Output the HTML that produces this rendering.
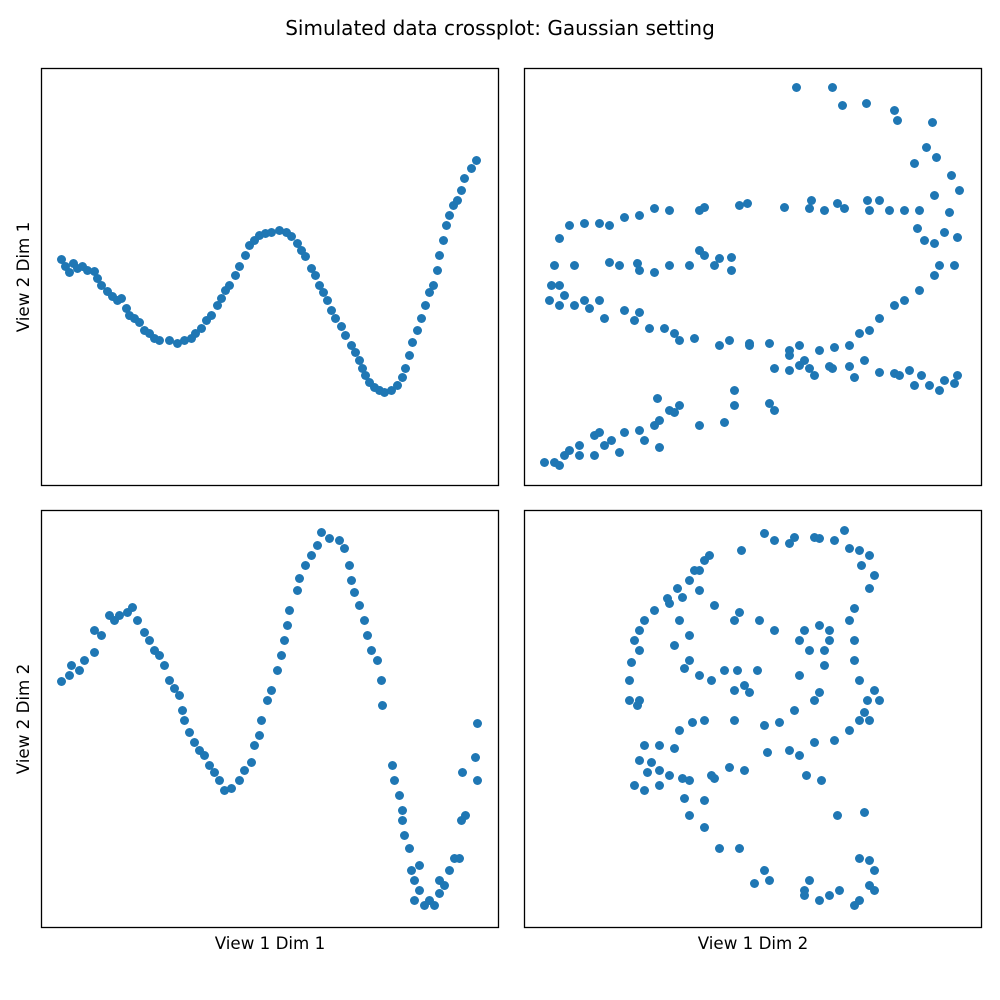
<!DOCTYPE html>
<html><head><meta charset="utf-8">
<style>
html,body{margin:0;padding:0;background:#fff;}
svg{display:block;font-family:"DejaVu Sans","Liberation Sans",sans-serif;}
</style></head>
<body>
<svg id="fig" width="1000" height="1000" viewBox="0 0 1000 1000">
<rect x="0" y="0" width="1000" height="1000" fill="#fff"/>
<text x="500" y="35" text-anchor="middle" font-size="20" fill="#000">Simulated data crossplot: Gaussian setting</text>
<text transform="translate(29,277) rotate(-90)" text-anchor="middle" font-size="16.7" fill="#000">View 2 Dim 1</text>
<text transform="translate(29,719) rotate(-90)" text-anchor="middle" font-size="16.7" fill="#000">View 2 Dim 2</text>
<text x="270" y="949" text-anchor="middle" font-size="16.7" fill="#000">View 1 Dim 1</text>
<text x="753" y="949" text-anchor="middle" font-size="16.7" fill="#000">View 1 Dim 2</text>
</svg>
<script>
// data in arbitrary units (no ticks in the reference); x in [0,457], y in [0,417]
const tlX=[20,24,28,32,36,41,46,53,56,60,66,71,76,80,85,88,93,98,103,108,113,118,128,136,143,150,154,160,165,170,176,180,184,188,194,198,204,208,213,218,224,230,238,245,250,256,260,264,270,274,278,282,286,290,294,300,304,310,314,318,321,324,328,333,338,343,350,356,361,364,368,371,376,380,384,388,392,396,398,402,405,408,412,416,420,423,430,435];
const tlY=[226,219,213,222,217,219,215,214,207,200,194,189,185,187,177,170,167,163,155,152,147,145,145,142,145,147,152,157,165,170,180,187,195,200,210,219,230,240,245,250,252,253,255,253,249,242,235,229,217,210,200,193,185,175,167,159,150,140,133,125,117,110,103,98,95,93,95,100,108,117,130,143,155,167,180,193,200,215,230,245,260,270,280,285,295,307,317,325];
const trX=[272,308,318,342,370,373,408,402,390,412,427,435,410,395,
35,45,60,75,85,100,115,130,145,175,180,215,223,260,285,287,300,313,320,343,345,355,365,380,393,400,410,420,425,433,
30,35,27,40,50,60,75,85,95,113,115,130,145,165,175,180,190,195,207,207,25,35,50,65,80,100,110,115,125,140,150,155,170,195,205,225,245,265,275,
415,430,410,395,380,370,355,345,335,325,310,295,280,265,
250,265,275,285,305,325,340,355,370,385,397,405,420,430,433,415,390,375,330,308,290,
20,30,35,40,45,55,70,80,87,100,115,120,130,135,145,150,155,175,200,210,210,245,250,225,133,135,55,70,95,75];
const trY=[398,398,380,382,375,365,363,338,322,328,310,295,290,275,
247,260,262,262,260,268,270,277,275,275,278,280,282,278,277,285,275,282,277,285,275,285,275,275,257,245,242,253,273,248,
220,200,200,190,220,185,185,223,220,222,215,213,220,220,235,230,220,227,228,215,185,180,180,177,167,175,165,173,157,157,152,145,147,140,145,142,142,135,140,
220,220,210,195,185,180,167,155,152,140,138,135,125,130,
117,115,120,117,119,119,125,113,112,115,110,100,105,102,110,95,100,110,108,117,110,
23,23,20,30,35,40,50,40,45,53,55,45,60,65,75,73,80,60,63,95,80,82,75,140,87,38,30,30,33,53];
const blX=[20,28,30,38,43,53,53,60,68,73,78,86,91,96,103,108,113,118,123,128,133,138,141,143,148,153,158,163,168,173,178,183,190,198,203,210,213,218,220,226,230,236,240,243,246,248,256,258,264,270,276,280,288,298,303,308,310,313,318,323,326,330,336,340,341,
351,353,358,361,361,363,368,370,373,378,383,388,393,398,403,408,413,418,420,424,421,434,436,436,378,373,398];
const blY=[246,252,262,257,267,275,297,292,312,307,312,315,320,307,295,287,277,272,262,247,239,232,217,207,195,185,177,172,162,155,147,137,139,147,157,165,182,192,207,227,237,257,272,287,302,317,337,349,362,372,382,395,389,387,379,362,347,335,322,307,292,277,267,247,222,
162,147,132,117,107,92,79,57,47,37,22,27,22,34,42,57,69,69,107,112,155,170,147,204,62,27,47];
const brX=[240,250,265,270,290,295,310,320,325,335,345,337,350,345,330,325,305,295,280,275,285,300,305,330,330,335,350,343,340,335,325,310,290,275,265,243,240,255,270,295,290,282,297,313,340,335,345,350,345,350,335,330,315,305,285,280,295,280,245,240,230,215,195,180,165,160,180,190,187,205,220,180,168,155,150,135,120,115,127,135,145,158,165,135,120,110,123,115,113,105,105,107,115,110,115,120,130,143,153,165,175,180,185,170,175,158,145,155,165,150,165,160,175,187,200,210,220,225,210,213,210,215,235,250,217,190,233,275,300,345,355];
const brY=[394,387,384,390,390,389,387,397,379,377,372,362,352,339,319,307,297,302,297,287,277,277,287,287,267,247,237,227,215,207,197,187,185,172,177,175,202,205,217,235,227,152,147,112,115,69,67,57,42,37,27,22,37,32,47,37,27,32,47,57,44,79,79,100,112,129,127,149,152,160,157,207,205,197,179,182,182,167,165,157,152,149,147,142,137,142,155,227,222,227,247,265,277,287,297,307,317,329,339,347,357,367,372,357,337,330,324,307,292,282,267,259,252,247,257,237,242,235,207,257,307,315,307,297,377,322,257,252,262,207,227];

const svg=document.getElementById('fig');
const NS='http://www.w3.org/2000/svg';
const panels=[
 {name:'top-left',left:41.5,top:68.5,xs:tlX,ys:tlY},
 {name:'top-right',left:524.5,top:68.5,xs:trX,ys:trY},
 {name:'bottom-left',left:41.5,top:510.5,xs:blX,ys:blY},
 {name:'bottom-right',left:524.5,top:510.5,xs:brX,ys:brY}
];
const W=457,H=417,XMAX=457,YMAX=417;
panels.forEach(p=>{
  const g=document.createElementNS(NS,'g');
  
  
  svg.appendChild(g);
  const sx=v=>p.left+v/XMAX*W;
  const sy=v=>p.top+H-v/YMAX*H;
  for(let i=0;i<p.xs.length;i++){
    const c=document.createElementNS(NS,'circle');
    c.setAttribute('cx',sx(p.xs[i]));c.setAttribute('cy',sy(p.ys[i]));
    c.setAttribute('r',4.5);c.setAttribute('fill','#1f77b4');
    
    
    g.appendChild(c);
  }
  const r=document.createElementNS(NS,'rect');
  r.setAttribute('x',p.left);r.setAttribute('y',p.top);
  r.setAttribute('width',W);r.setAttribute('height',H);
  r.setAttribute('fill','none');r.setAttribute('stroke','#000');r.setAttribute('stroke-width',1.3);
  
  
  svg.appendChild(r);
});
</script>
</body></html>
